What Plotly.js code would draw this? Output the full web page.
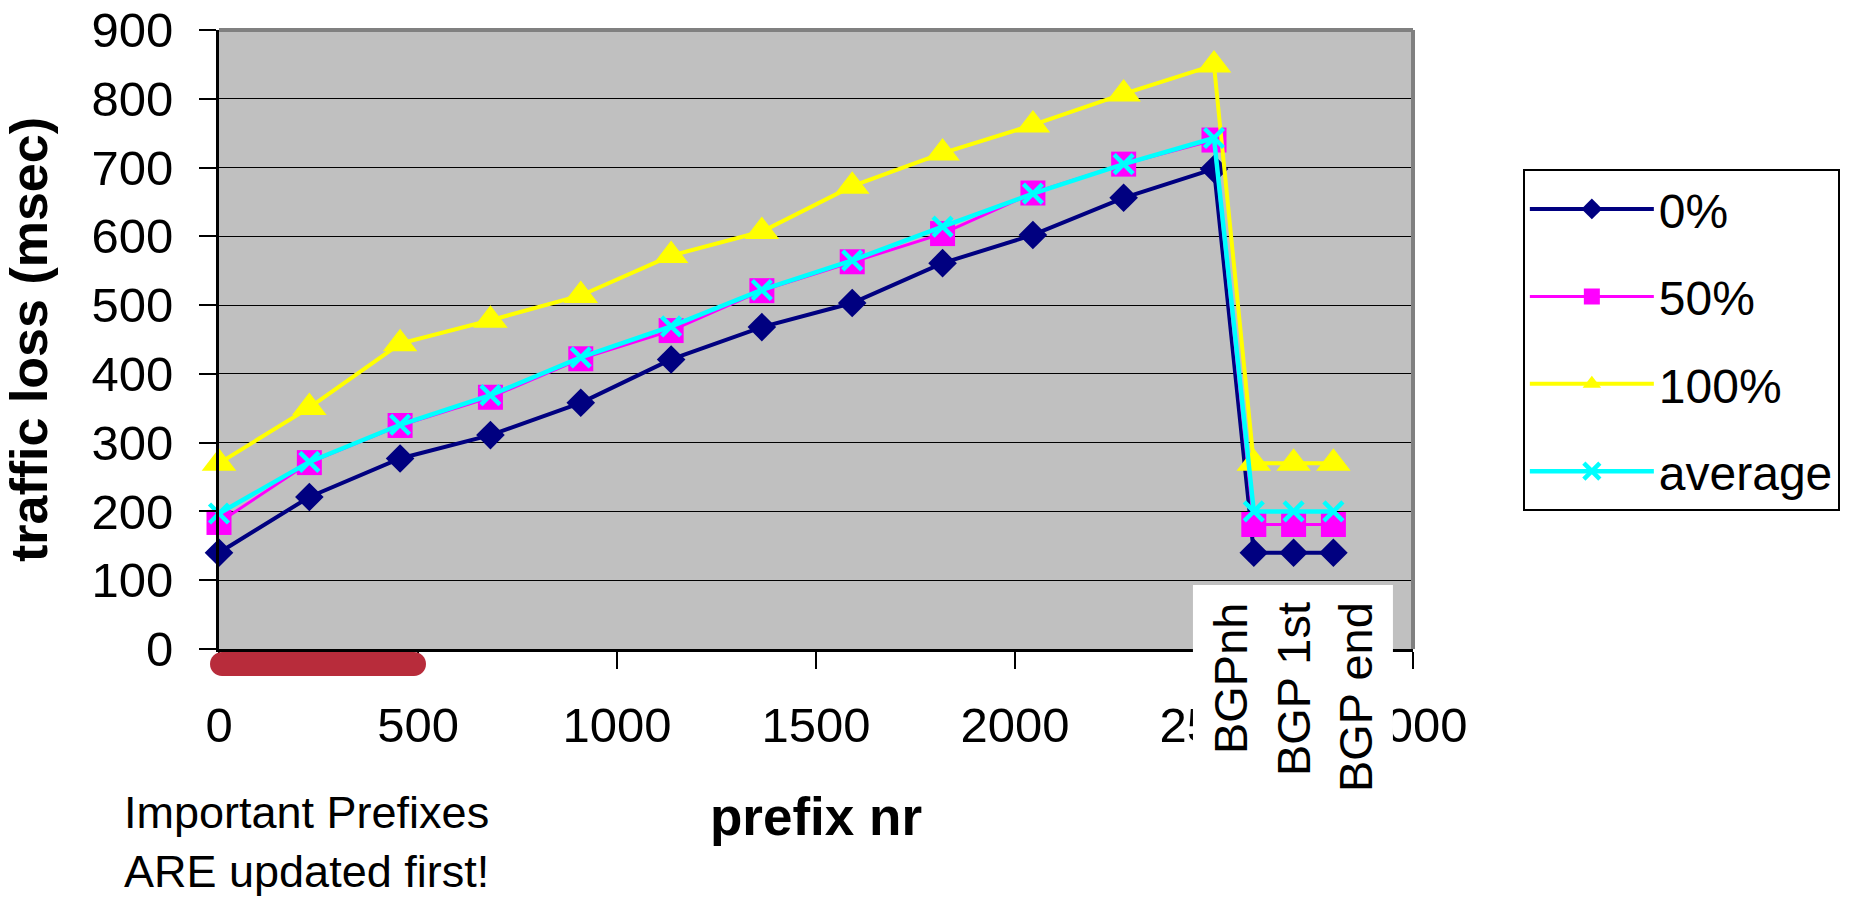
<!DOCTYPE html>
<html><head><meta charset="utf-8">
<script src="https://cdn.plot.ly/plotly-3.0.1.min.js"></script>
<style>html,body{margin:0;padding:0;background:#fff;}</style>
</head><body>
<div id="chart" style="width:1860px;height:897px;"></div>
<script>
// ---- data ----
const prefixNr = [0, 227, 455, 682, 909, 1136, 1364, 1591, 1818, 2045, 2273, 2500, 2600, 2700, 2800];
const seriesNames = ['0%', '50%', '100%', 'average'];
const loss0   = [140, 221, 277, 311, 358, 421, 468, 503, 561, 602, 656, 698, 140, 140, 140];
const loss50  = [184, 271, 325, 366, 422, 463, 521, 563, 604, 663, 705, 740, 181, 181, 181];
const loss100 = [270, 351, 444, 478, 514, 572, 607, 673, 721, 762, 807, 849, 270, 270, 270];
const lossAvg = [197, 272, 326, 369, 424, 469, 522, 565, 614, 662, 705, 743, 200, 200, 200];
const xTickVals = [0, 500, 1000, 1500, 2000, 2500, 3000];
const yTickVals = [0, 100, 200, 300, 400, 500, 600, 700, 800, 900];
const bgpLabels = ['BGPnh', 'BGP 1st', 'BGP end'];
const noteLines = ['Important Prefixes', 'ARE updated first!'];

const FONT = 'Liberation Sans, Arial, sans-serif';

const styles = [
  {color: '#000080', symbol: 'diamond', size: 22, lw: 4},
  {color: '#FF00FF', symbol: 'square', size: 25, lw: 3},
  {color: '#FFFF00', symbol: 'triangle-up', size: 30, lw: 4},
  {color: '#00FFFF', symbol: 'x-thin-open', size: 19, lw: 4.5}
];
const values = [loss0, loss50, loss100, lossAvg];

const traces = values.map((v, i) => {
  const s = styles[i];
  const marker = {symbol: s.symbol, size: s.size, color: s.color};
  if (s.symbol === 'x-thin-open') marker.line = {color: s.color, width: 4.5};
  else marker.line = {width: 0};
  return {
    type: 'scatter', mode: 'lines+markers', name: seriesNames[i],
    x: prefixNr, y: v, cliponaxis: false,
    line: {color: s.color, width: s.lw},
    marker: marker, legendgroup: 'g' + i
  };
});

// label columns inside the white box (paper x positions)
const bgpLabelPos = [0.8467, 0.8995, 0.9514];
const annotations = bgpLabels.map((t, i) => ({
  text: t, x: bgpLabelPos[i], xref: 'paper', y: 0.079, yref: 'paper',
  xanchor: 'center', yanchor: 'top', textangle: -90, showarrow: false,
  font: {family: FONT, size: 47, color: '#000'}
}));
annotations.push({
  text: noteLines.join('<br>'), x: -0.0812, xref: 'paper', y: -0.219, yref: 'paper',
  xanchor: 'left', yanchor: 'top', align: 'left', showarrow: false,
  font: {family: FONT, size: 45, color: '#000'}
});

const shapes = [
  // white box behind BGP labels
  {type: 'rect', xref: 'paper', yref: 'paper', x0: 0.8157, x1: 0.9832, y0: -0.245, y1: 0.1034,
   fillcolor: '#FFFFFF', line: {width: 0}, layer: 'above'},
  // red bar under x axis
  {type: 'path', xref: 'paper', yref: 'paper', xsizemode: 'pixel', ysizemode: 'pixel',
   xanchor: 0, yanchor: -0.0242,
   path: 'M3,-12 H195 C201.6,-12 207,-6.6 207,0 C207,6.6 201.6,12 195,12 H3 C-3.6,12 -9,6.6 -9,0 C-9,-6.6 -3.6,-12 3,-12 Z',
   fillcolor: '#B82C3B', line: {width: 0}, layer: 'above'},
  // gray top and right frame
  {type: 'line', xref: 'paper', yref: 'paper', x0: 0, x1: 1, y0: 1, y1: 1, line: {color: '#808080', width: 4}, layer: 'above'},
  {type: 'line', xref: 'paper', yref: 'paper', x0: 1, x1: 1, y0: 0, y1: 1, line: {color: '#808080', width: 4}, layer: 'above'}
];

const layout = {
  width: 1860, height: 897,
  margin: {l: 219, r: 447, t: 30, b: 248},
  paper_bgcolor: '#FFFFFF', plot_bgcolor: '#C0C0C0',
  font: {family: FONT, color: '#000'},
  showlegend: true,
  legend: {
    x: 1.092, y: 0.775, xanchor: 'left', yanchor: 'top',
    bordercolor: '#000', borderwidth: 2, bgcolor: '#FFFFFF',
    font: {family: FONT, size: 48, color: '#000'},
    traceorder: 'grouped', tracegroupgap: 22, itemwidth: 124
  },
  xaxis: {
    range: [0, 3000], tickvals: xTickVals, ticktext: xTickVals.map(String),
    ticks: 'outside', ticklen: 17, tickwidth: 2, tickcolor: '#000',
    showline: true, linecolor: '#000', linewidth: 3, showgrid: false, zeroline: false,
    tickfont: {family: FONT, size: 49, color: '#000'}, ticklabelstandoff: 14,
    title: {text: '<b>prefix nr</b>', font: {family: FONT, size: 53, color: '#000'}, standoff: 48}
  },
  yaxis: {
    range: [0, 900], tickvals: yTickVals, ticktext: yTickVals.map(String),
    ticks: 'outside', ticklen: 17, tickwidth: 2, tickcolor: '#000',
    showline: true, linecolor: '#000', linewidth: 3,
    showgrid: true, gridcolor: '#000', gridwidth: 1.2, zeroline: false,
    tickfont: {family: FONT, size: 49, color: '#000'}, ticklabelstandoff: 16,
    title: {text: '<b>traffic loss (msec)</b>', font: {family: FONT, size: 52, color: '#000'}, standoff: 30}
  },
  shapes: shapes,
  annotations: annotations
};

Plotly.newPlot('chart', traces, layout, {displayModeBar: false, staticPlot: true});
</script>
</body></html>
